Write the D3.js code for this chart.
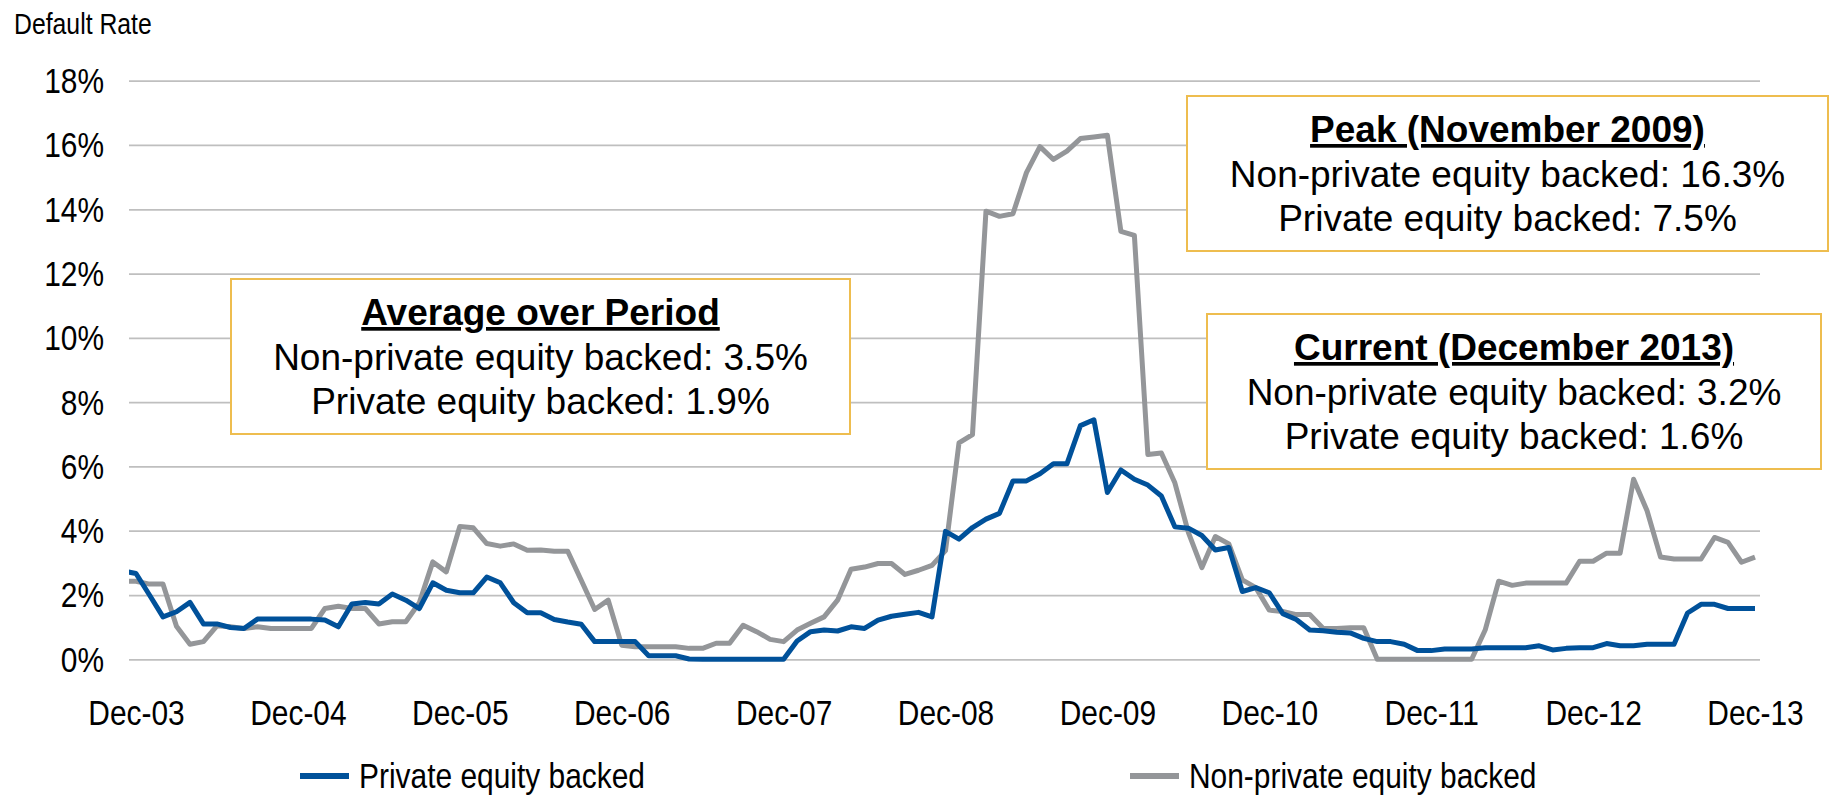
<!DOCTYPE html>
<html>
    <head>
        <title>Default Rate | D3</title>
        <script src="https://d3js.org/d3.v7.min.js" charset="utf-8"></script>
        <style>
            body {
                margin: 0;
                background: white;
                font-family: "Liberation Sans", Arial, sans-serif;
            }
        </style>
    </head>

    <body>
        <script>
            // monthly default rates, Nov-03 .. Dec-13 (first point sits just left of the plot and gets clipped)
            var peBacked = [
                2.75,
                2.67, 2.00, 1.32, 1.48, 1.77, 1.10, 1.10, 0.99, 0.96, 1.25, 1.25, 1.25,
                1.25, 1.25, 1.22, 1.01, 1.72, 1.77, 1.72, 2.03, 1.84, 1.58, 2.38, 2.15,
                2.07, 2.07, 2.56, 2.38, 1.76, 1.45, 1.45, 1.24, 1.16, 1.09, 0.55, 0.55,
                0.55, 0.55, 0.11, 0.11, 0.11, 0.01, 0.00, 0.00, 0.00, 0.00, 0.00, 0.00,
                0.00, 0.57, 0.86, 0.91, 0.88, 1.01, 0.96, 1.22, 1.34, 1.40, 1.46, 1.32,
                3.98, 3.74, 4.10, 4.36, 4.54, 5.55, 5.55, 5.77, 6.08, 6.08, 7.27, 7.45,
                5.19, 5.89, 5.60, 5.42, 5.08, 4.12, 4.08, 3.85, 3.40, 3.48, 2.11, 2.23,
                2.07, 1.42, 1.24, 0.91, 0.89, 0.84, 0.82, 0.65, 0.55, 0.55, 0.47, 0.27,
                0.27, 0.32, 0.32, 0.32, 0.36, 0.36, 0.36, 0.36, 0.42, 0.29, 0.34, 0.36,
                0.36, 0.49, 0.42, 0.42, 0.47, 0.47, 0.47, 1.44, 1.71, 1.71, 1.58, 1.58,
                1.58
            ];
            var nonPeBacked = [
                2.43,
                2.43, 2.34, 2.34, 1.03, 0.47, 0.55, 1.04, 1.01, 0.96, 1.01, 0.96, 0.96,
                0.96, 0.96, 1.58, 1.65, 1.58, 1.58, 1.10, 1.17, 1.17, 1.76, 3.03, 2.72,
                4.13, 4.09, 3.60, 3.52, 3.59, 3.39, 3.40, 3.36, 3.36, 2.46, 1.55, 1.84,
                0.44, 0.39, 0.39, 0.39, 0.39, 0.34, 0.34, 0.50, 0.50, 1.06, 0.86, 0.62,
                0.55, 0.91, 1.12, 1.32, 1.84, 2.80, 2.87, 2.98, 2.98, 2.64, 2.77, 2.92,
                3.38, 6.73, 6.99, 13.94, 13.78, 13.86, 15.14, 15.95, 15.55, 15.81, 16.20, 16.25,
                16.30, 13.31, 13.19, 6.37, 6.42, 5.49, 3.95, 2.85, 3.82, 3.59, 2.47, 2.23,
                1.53, 1.49, 1.39, 1.39, 0.96, 0.96, 0.98, 0.98, 0.00, 0.00, 0.00, 0.00,
                0.00, 0.00, 0.00, 0.00, 0.91, 2.43, 2.30, 2.37, 2.37, 2.37, 2.37, 3.05,
                3.05, 3.30, 3.30, 5.60, 4.62, 3.18, 3.12, 3.12, 3.12, 3.79, 3.64, 3.02,
                3.18
            ];

            var yTicks = [0, 2, 4, 6, 8, 10, 12, 14, 16, 18];
            var seriesNames = ["Private equity backed", "Non-private equity backed"];

            var avgLines = ["Average over Period", "Non-private equity backed: 3.5%", "Private equity backed: 1.9%"];
            var peakLines = ["Peak (November 2009)", "Non-private equity backed: 16.3%", "Private equity backed: 7.5%"];
            var currentLines = ["Current (December 2013)", "Non-private equity backed: 3.2%", "Private equity backed: 1.6%"];

            var width = 1829;
            var height = 795;
            var left = 129, right = 1760;
            var blue = "#00519A";
            var grey = "#949699";
            var squeeze = 0.855;   // axis text in the original is a narrow face

            var fmt = d3.utcFormat("%b-%y");
            var months = d3.utcMonth.range(new Date(Date.UTC(2003, 10, 1)), new Date(Date.UTC(2014, 0, 1)));
            var keys = months.map(fmt);
            var decKeys = keys.filter(function(k) { return k.indexOf("Dec") == 0; });

            var x = d3.scalePoint().domain(keys).range([122.5, 1755]);
            var y = d3.scaleLinear().domain([0, 18]).range([659.3, 80.7]);

            var svg = d3.select("body")
                .append("svg")
                .attr("width", width)
                .attr("height", height)
                .style("display", "block");

            svg.append("defs").append("clipPath")
                .attr("id", "plot")
                .append("rect")
                .attr("x", left)
                .attr("y", 0)
                .attr("width", right - left)
                .attr("height", height);

            // y axis + gridlines
            var yAxis = svg.append("g")
                .attr("transform", "translate(" + left + ",0)")
                .call(d3.axisLeft(y).tickValues(yTicks).tickFormat(function(d) { return d + "%"; })
                    .tickSize(-(right - left)).tickPadding(25));
            yAxis.select(".domain").remove();
            yAxis.selectAll("line").attr("stroke", "#BFBFBF").attr("stroke-width", 1.75);
            yAxis.selectAll("text")
                .attr("font-family", "Liberation Sans, Arial, sans-serif")
                .attr("font-size", 35)
                .attr("fill", "#000")
                .attr("x", -25 / squeeze)
                .attr("dy", "0.34em")
                .attr("transform", "scale(" + squeeze + ",1)");

            // x axis labels
            var xAxis = svg.append("g")
                .attr("transform", "translate(0," + y(0) + ")")
                .call(d3.axisBottom(x).tickValues(decKeys).tickSize(0).tickPadding(41));
            xAxis.select(".domain").remove();
            xAxis.selectAll("text")
                .attr("font-family", "Liberation Sans, Arial, sans-serif")
                .attr("font-size", 35)
                .attr("fill", "#000")
                .attr("transform", "scale(" + squeeze + ",1)");

            svg.append("text")
                .attr("transform", "translate(14,34) scale(" + squeeze + ",1)")
                .attr("font-size", 29)
                .text("Default Rate");

            var line = d3.line()
                .x(function(d, i) { return x(keys[i]); })
                .y(function(d) { return y(d); });

            var lines = svg.append("g").attr("clip-path", "url(#plot)");
            lines.append("path")
                .datum(nonPeBacked)
                .attr("fill", "none")
                .attr("stroke", grey)
                .attr("stroke-width", 5)
                .attr("stroke-linejoin", "round")
                .attr("d", line);
            lines.append("path")
                .datum(peBacked)
                .attr("fill", "none")
                .attr("stroke", blue)
                .attr("stroke-width", 5)
                .attr("stroke-linejoin", "round")
                .attr("d", line);

            // legend
            var legend = svg.append("g");
            var legendItems = [
                {name: seriesNames[0], color: blue, x: 300},
                {name: seriesNames[1], color: grey, x: 1130}
            ];
            legendItems.forEach(function(item) {
                legend.append("line")
                    .attr("x1", item.x).attr("x2", item.x + 49)
                    .attr("y1", 776).attr("y2", 776)
                    .attr("stroke", item.color)
                    .attr("stroke-width", 6);
                legend.append("text")
                    .attr("transform", "translate(" + (item.x + 59) + ",788) scale(" + squeeze + ",1)")
                    .attr("font-size", 35)
                    .text(item.name);
            });

            // callout boxes
            var boxes = [
                {lines: avgLines, x0: 231, x1: 850, top: 279},
                {lines: peakLines, x0: 1187, x1: 1828, top: 96},
                {lines: currentLines, x0: 1207, x1: 1821, top: 314}
            ];
            boxes.forEach(function(b) {
                var g = svg.append("g");
                g.append("rect")
                    .attr("x", b.x0)
                    .attr("y", b.top)
                    .attr("width", b.x1 - b.x0)
                    .attr("height", 155)
                    .attr("fill", "white")
                    .attr("stroke", "#EEBD4F")
                    .attr("stroke-width", 2);
                g.selectAll("text")
                    .data(b.lines)
                    .enter()
                    .append("text")
                    .attr("x", (b.x0 + b.x1) / 2)
                    .attr("y", function(d, i) { return b.top + 46 + i * 44.5; })
                    .attr("text-anchor", "middle")
                    .attr("font-size", 37)
                    .attr("font-weight", function(d, i) { return i == 0 ? "bold" : "normal"; })
                    .style("text-decoration", function(d, i) { return i == 0 ? "underline" : "none"; })
                    .text(function(d) { return d; });
            });
        </script>
    </body>
</html>
